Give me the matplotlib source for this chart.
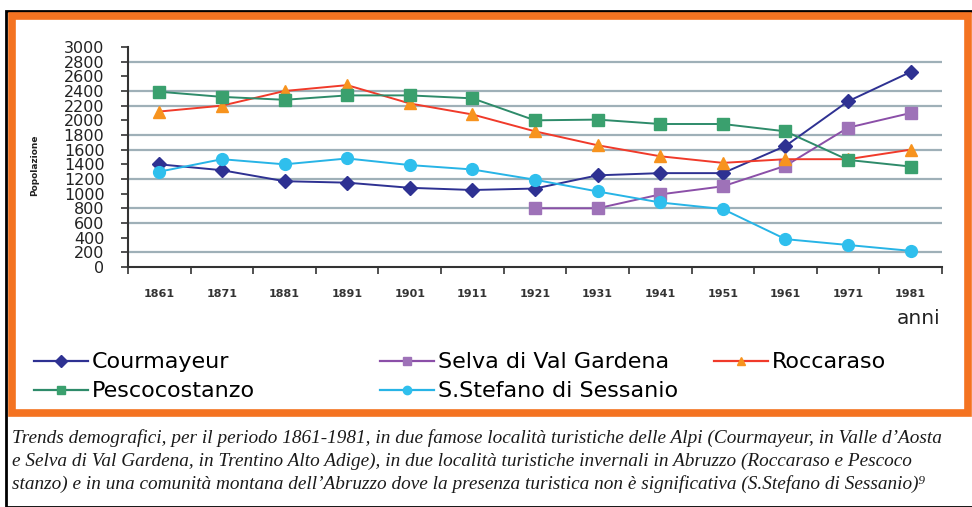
import numpy as np
import matplotlib.pyplot as plt
from matplotlib.patches import Rectangle
from matplotlib.lines import Line2D

# dati
anni = ["1861", "1871", "1881", "1891", "1901", "1911", "1921",
        "1931", "1941", "1951", "1961", "1971", "1981"]
courmayeur = [1400, 1320, 1170, 1150, 1080, 1050, 1070, 1250, 1280, 1280, 1650, 2260, 2660]
selva = [np.nan] * 6 + [800, 800, 990, 1100, 1380, 1900, 2100]
roccaraso = [2120, 2200, 2400, 2480, 2230, 2080, 1850, 1660, 1510, 1420, 1470, 1470, 1600]
pescocostanzo = [2390, 2320, 2280, 2340, 2340, 2300, 2000, 2010, 1950, 1950, 1850, 1460, 1370]
s_stefano = [1300, 1470, 1400, 1480, 1390, 1330, 1190, 1030, 880, 790, 380, 300, 220]

griglia = [200, 600, 800, 1200, 1600, 1800, 2200, 2400, 2800]

W, H = 972, 507


def fx(x):
    return x / W


def fy(y):
    return 1 - y / H


fig = plt.figure(figsize=(9.72, 5.07), dpi=100)
ax = fig.add_axes([fx(128), fy(267), fx(942) - fx(128), fy(47) - fy(267)])

x = np.arange(len(anni))
for yv in griglia:
    ax.axhline(yv, color="#9fb0b8", lw=1.6, zorder=0)

serie = [
    ("Courmayeur", courmayeur, "#2e3192", "#2e3192", "D", 7.5),
    ("Selva di Val Gardena", selva, "#8b4fa8", "#9e72b8", "s", 8.5),
    ("Roccaraso", roccaraso, "#f03a2a", "#f7931e", "^", 9),
    ("Pescocostanzo", pescocostanzo, "#2e8b6a", "#3aa06e", "s", 8),
    ("S.Stefano di Sessanio", s_stefano, "#27b4e6", "#2fbfed", "o", 8.5),
]
handles = {}
for nome, vals, lc, mc, mk, ms in serie:
    h, = ax.plot(x, vals, color=lc, lw=1.4, marker=mk, ms=ms,
                 markerfacecolor=mc, markeredgecolor=mc, label=nome)
    handles[nome] = h

ax.set_xlim(-0.5, len(anni) - 0.5)
ax.set_ylim(0, 3000)
ax.set_yticks(range(0, 3001, 200))
ax.set_yticklabels([str(v) for v in range(0, 3001, 200)], fontsize=11.5,
                   color="#222222")
ax.tick_params(axis="y", length=5, width=1.2, color="#333333", pad=12)

ax.set_xticks(x)
ax.set_xticklabels(anni, fontsize=8, fontweight="bold", color="#333333")
ax.set_xticks(np.arange(-0.5, len(anni)), minor=True)
ax.tick_params(axis="x", which="major", length=0, pad=16)
ax.tick_params(axis="x", which="minor", length=5, width=1.2, color="#333333")

for s in ["top", "right"]:
    ax.spines[s].set_visible(False)
ax.spines["left"].set_color("#333333")
ax.spines["bottom"].set_color("#333333")
ax.spines["left"].set_linewidth(1.5)
ax.spines["bottom"].set_linewidth(1.5)

fig.text(fx(35), fy(165), "Popolazione", rotation=90, fontsize=6.5,
         fontweight="bold", ha="center", va="center", color="#222222")
fig.text(fx(940), fy(318), "anni", fontsize=14.5, ha="right", va="center",
         color="#222222")

# legenda in tre colonne
colonne = [
    (40, ["Courmayeur", "Pescocostanzo"]),
    (386, ["Selva di Val Gardena", "S.Stefano di Sessanio"]),
    (720, ["Roccaraso"]),
]
for xc, nomi in colonne:
    hs = []
    for n in nomi:
        h = handles[n]
        hs.append(Line2D([], [], color=h.get_color(), lw=1.6,
                         marker=h.get_marker(), ms=6,
                         markerfacecolor=h.get_markerfacecolor(),
                         markeredgecolor=h.get_markeredgecolor()))
    fig.legend(hs, nomi, loc="upper left", bbox_to_anchor=(fx(xc - 10), fy(348)),
               frameon=False, fontsize=16, handlelength=2.4, handletextpad=0.2,
               labelspacing=0.4, borderaxespad=0, borderpad=0.2)

# cornici
fig.patches.append(Rectangle((fx(6), 0), fx(1000) - fx(6), fy(11), fill=False,
                             ec="black", lw=2, transform=fig.transFigure))
fig.patches.append(Rectangle((fx(12), fy(413)), fx(968) - fx(12), fy(16) - fy(413),
                             fill=False, ec="#f47321", lw=5.5,
                             transform=fig.transFigure))

caption = [
    "Trends demografici, per il periodo 1861-1981, in due famose località turistiche delle Alpi (Courmayeur, in Valle d\u2019Aosta",
    "e Selva di Val Gardena, in Trentino Alto Adige), in due località turistiche invernali in Abruzzo (Roccaraso e Pescoco",
    "stanzo) e in una comunità montana dell\u2019Abruzzo dove la presenza turistica non è significativa (S.Stefano di Sessanio)\u2079",
]
for i, riga in enumerate(caption):
    fig.text(fx(12), fy(438 + 23 * i), riga, fontsize=13.9, style="italic",
             family=["Liberation Serif", "DejaVu Serif"], va="center",
             ha="left", color="#1a1a1a")

fig.savefig("out.png", dpi=100)
